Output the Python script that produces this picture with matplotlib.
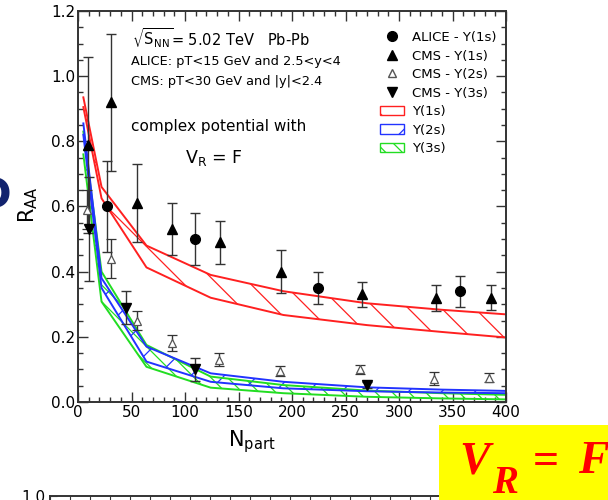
import matplotlib
matplotlib.use('Agg')
import matplotlib.pyplot as plt
from matplotlib.patches import Patch
from matplotlib.lines import Line2D
from matplotlib.ticker import MultipleLocator, FormatStrFormatter

plt.rcParams['font.family'] = ['DejaVu Sans']
plt.rcParams['mathtext.default'] = 'regular'
plt.rcParams['hatch.linewidth'] = 0.9

# ---------------- data ----------------
alice1_N = [27, 109, 224, 357]
alice1_R = [0.60, 0.50, 0.35, 0.34]
alice1_E = [0.14, 0.08, 0.05, 0.048]

cms1_N = [9.7, 30.5, 55, 87.5, 133, 190, 265, 335, 386]
cms1_R = [0.79, 0.92, 0.61, 0.53, 0.49, 0.40, 0.33, 0.32, 0.32]
cms1_E = [0.27, 0.21, 0.12, 0.08, 0.065, 0.065, 0.038, 0.04, 0.038]

cms2_N = [8, 30.5, 55.5, 88, 132, 189, 264, 333, 384]
cms2_R = [0.59, 0.44, 0.25, 0.18, 0.13, 0.095, 0.10, 0.072, 0.075]
cms2_E = [0.06, 0.06, 0.03, 0.025, 0.02, 0.015, 0.015, 0.02, 0.015]

cms3_N = [10.6, 44.5, 109, 270]
cms3_R = [0.53, 0.29, 0.10, 0.052]
cms3_E = [0.16, 0.05, 0.035, 0.01]

band_N = [5, 22, 64, 124, 192, 270, 340, 400]
y1s_hi = [0.935, 0.66, 0.48, 0.39, 0.34, 0.303, 0.283, 0.269]
y1s_lo = [0.905, 0.625, 0.413, 0.32, 0.267, 0.236, 0.215, 0.198]
y2s_hi = [0.855, 0.38, 0.17, 0.088, 0.062, 0.045, 0.038, 0.034]
y2s_lo = [0.82, 0.35, 0.124, 0.062, 0.042, 0.033, 0.029, 0.027]
y3s_hi = [0.83, 0.40, 0.175, 0.078, 0.052, 0.035, 0.027, 0.022]
y3s_lo = [0.76, 0.308, 0.108, 0.044, 0.027, 0.016, 0.011, 0.008]

RED, BLUE, GREEN = '#ff2020', '#2233ff', '#22dd22'

W, H = 608, 500
fig = plt.figure(figsize=(W / 100, H / 100), dpi=100)
fig.patch.set_facecolor('white')
ax = fig.add_axes([78 / W, 1 - 402 / H, 428 / W, 391 / H])

# bands
for hi, lo, col, hat in [(y3s_hi, y3s_lo, GREEN, '\\\\'),
                         (y2s_hi, y2s_lo, BLUE, '/'),
                         (y1s_hi, y1s_lo, RED, '\\')]:
    ax.fill_between(band_N, lo, hi, facecolor='none', edgecolor=col,
                    hatch=hat, linewidth=0)
    ax.plot(band_N, hi, color=col, lw=1.4)
    ax.plot(band_N, lo, color=col, lw=1.4)

ekw = dict(ecolor='#333333', elinewidth=1.0, capsize=3.5, capthick=1.0,
           linestyle='none', zorder=5)
ax.errorbar(alice1_N, alice1_R, yerr=alice1_E, marker='o', ms=7,
            mfc='black', mec='black', **ekw)
ax.errorbar(cms1_N, cms1_R, yerr=cms1_E, marker='^', ms=7,
            mfc='black', mec='black', **ekw)
ax.errorbar(cms2_N, cms2_R, yerr=cms2_E, marker='^', ms=6,
            mfc='white', mec='#555555', mew=0.9, **ekw)
ax.errorbar(cms3_N, cms3_R, yerr=cms3_E, marker='v', ms=7,
            mfc='black', mec='black', **ekw)

ax.set_xlim(0, 400)
ax.set_ylim(0, 1.2)
ax.xaxis.set_major_locator(MultipleLocator(50))
ax.xaxis.set_minor_locator(MultipleLocator(10))
ax.yaxis.set_major_locator(MultipleLocator(0.2))
ax.yaxis.set_minor_locator(MultipleLocator(0.05))
ax.yaxis.set_major_formatter(FormatStrFormatter('%.1f'))
ax.tick_params(which='both', direction='in', top=True, right=True,
               color='#333333', width=1.0)
ax.tick_params(which='major', length=7, labelsize=11, pad=2)
ax.tick_params(which='minor', length=3.5)
for s in ax.spines.values():
    s.set_linewidth(1.4)
    s.set_color('#333333')

# axis labels
fig.text(28 / W, 1 - 205 / H, r'R$_{AA}$', rotation=90, fontsize=15,
         ha='center', va='center')
fig.text(252 / W, 1 - 442 / H, r'N$_{part}$', fontsize=15,
         ha='center', va='center')

# annotations
fig.text(132 / W, 1 - 38 / H, r'$\sqrt{S_{NN}}$= 5.02 TeV   Pb-Pb',
         fontsize=10.5, va='center', ha='left')
fig.text(131 / W, 1 - 61 / H, 'ALICE: pT<15 GeV and 2.5<y<4', fontsize=9.3,
         va='center', ha='left')
fig.text(131 / W, 1 - 82 / H, 'CMS: pT<30 GeV and |y|<2.4', fontsize=9.3,
         va='center', ha='left')
fig.text(131 / W, 1 - 127 / H, 'complex potential with', fontsize=11,
         va='center', ha='left')
fig.text(185 / W, 1 - 158 / H, r'V$_R$ = F', fontsize=12.5,
         va='center', ha='left')

# legend
handles = [
    Line2D([], [], ls='none', marker='o', ms=7, mfc='black', mec='black'),
    Line2D([], [], ls='none', marker='^', ms=7, mfc='black', mec='black'),
    Line2D([], [], ls='none', marker='^', ms=6, mfc='white', mec='#555555'),
    Line2D([], [], ls='none', marker='v', ms=7, mfc='black', mec='black'),
    Patch(facecolor='none', edgecolor=RED, hatch='\\'),
    Patch(facecolor='none', edgecolor=BLUE, hatch='/'),
    Patch(facecolor='none', edgecolor=GREEN, hatch='\\\\'),
]
labels = ['ALICE - Υ(1s)', 'CMS - Υ(1s)', 'CMS - Υ(2s)', 'CMS - Υ(3s)',
          'Υ(1s)', 'Υ(2s)', 'Υ(3s)']
fig.legend(handles, labels, loc='upper left',
           bbox_to_anchor=(380 / W, 1 - 31 / H), bbox_transform=fig.transFigure,
           frameon=False, fontsize=9.5, borderpad=0, borderaxespad=0,
           handlelength=1.8, handletextpad=0.6, labelspacing=0.42)

# partial glyph at the left edge
fig.text(11 / W, 1 - 196 / H, 'D', fontsize=30, fontweight='bold',
         color='#12236e', ha='right', va='center')

# second (cut) plot at the bottom
ax2 = fig.add_axes([50 / W, -0.6, 540 / W, 0.6 + (1 - 496 / H)])
ax2.set_ylim(0, 1.0)
ax2.set_xlim(0, 540)
ax2.xaxis.set_major_locator(MultipleLocator(20))
ax2.yaxis.set_major_locator(MultipleLocator(1.0))
ax2.yaxis.set_major_formatter(FormatStrFormatter('%.1f'))
ax2.tick_params(direction='in', top=True, bottom=False, labelbottom=False,
                length=5, labelsize=11, color='#333333')
for k, s in ax2.spines.items():
    s.set_linewidth(1.4)
    s.set_color('#333333')
    if k in ('right', 'bottom'):
        s.set_visible(False)

# yellow box with formula
box = fig.add_axes([439 / W, 0, (W - 439) / W, 75 / H], zorder=20)
box.set_facecolor('#ffff00')
box.set_xticks([])
box.set_yticks([])
for s in box.spines.values():
    s.set_visible(False)
fkw = dict(family='Liberation Serif', fontweight='bold', color='#ff0000',
           va='baseline', ha='left', zorder=30)
fig.text(459 / W, 1 - 473 / H, 'V', fontsize=33, style='italic', **fkw)
fig.text(492 / W, 1 - 493 / H, 'R', fontsize=28, style='italic', **fkw)
fig.text(533 / W, 1 - 474 / H, '=', fontsize=33, **fkw)
fig.text(578 / W, 1 - 473 / H, 'F', fontsize=33, style='italic', **fkw)

fig.savefig('out.png', dpi=100)
